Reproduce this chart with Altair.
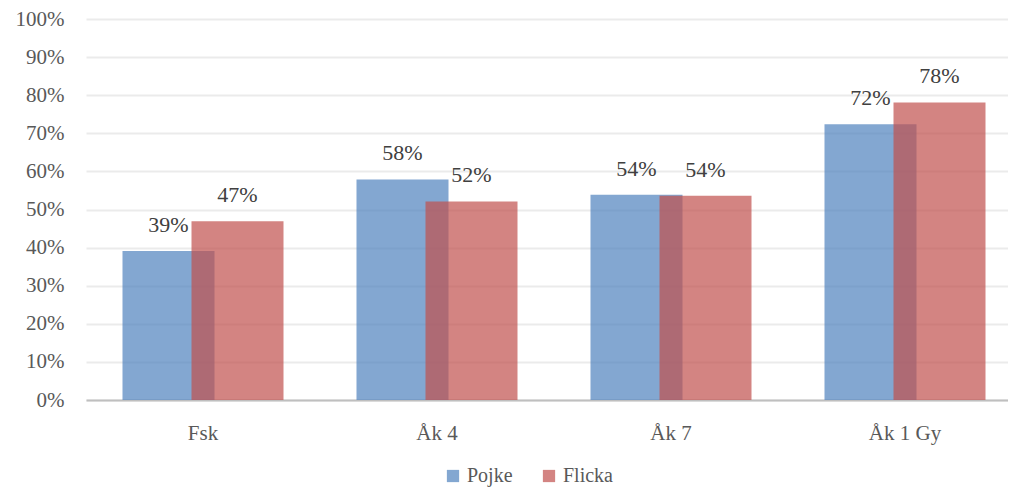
import altair as alt
import pandas as pd

categories = ["Fsk", "Åk 4", "Åk 7", "Åk 1 Gy"]
pojke = [0.391, 0.579, 0.539, 0.724]
flicka = [0.469, 0.521, 0.536, 0.781]
series = ["Pojke", "Flicka"]
colors = ["#4f81bd", "#c0504d"]
y_ticks = [0, 0.1, 0.2, 0.3, 0.4, 0.5, 0.6, 0.7, 0.8, 0.9, 1.0]

rows = []
for c, p, f in zip(categories, pojke, flicka):
    rows.append({"cat": c, "series": "Pojke", "value": p})
    rows.append({"cat": c, "series": "Flicka", "value": f})
df = pd.DataFrame(rows)

FONT = "Liberation Serif"
OFF = 34.5
BW = 92

x = alt.X("cat:N", sort=categories, title=None,
          scale=alt.Scale(paddingInner=0, paddingOuter=0, range=[0, 936]),
          axis=alt.Axis(labelAngle=0, ticks=False, domainColor="#bfbfbf", domainWidth=2,
                        labelFont=FONT, labelFontSize=21, labelColor="#595959", labelPadding=22))
y = alt.Y("value:Q", title=None,
          scale=alt.Scale(domain=[0, 1], nice=False),
          axis=alt.Axis(values=y_ticks, format=".0%", ticks=False, domain=False,
                        gridColor="#ebebeb", gridWidth=2,
                        labelFont=FONT, labelFontSize=21, labelColor="#595959", labelPadding=22))
color = alt.Color("series:N", scale=alt.Scale(domain=series, range=colors),
                  legend=alt.Legend(title=None, orient="none", direction="horizontal",
                                    legendX=357, legendY=447,
                                    symbolType="square",
                                    symbolSize=150, symbolOpacity=0.7, symbolStrokeWidth=0,
                                    labelFont=FONT, labelFontSize=20, labelColor="#595959",
                                    columnPadding=26))

base = alt.Chart(df)

blue = base.transform_filter(alt.datum.series == "Pojke").mark_bar(
    xOffset=-OFF, width=BW, opacity=0.7).encode(x=x, y=y, color=color)
red = base.transform_filter(alt.datum.series == "Flicka").mark_bar(
    xOffset=OFF, width=BW, opacity=0.7).encode(x=x, y=y, color=color)

blue_t = base.transform_filter(alt.datum.series == "Pojke").mark_text(
    dx=-OFF, dy=-19, baseline="alphabetic", font=FONT, fontSize=22, color="#404040").encode(
    x=x, y=y, text=alt.Text("value:Q", format=".0%"))
red_t = base.transform_filter(alt.datum.series == "Flicka").mark_text(
    dx=OFF, dy=-19, baseline="alphabetic", font=FONT, fontSize=22, color="#404040").encode(
    x=x, y=y, text=alt.Text("value:Q", format=".0%"))

chart = alt.layer(blue, red, blue_t, red_t).properties(
    width=922, height=381,
    autosize=alt.AutoSizeParams(type="none"),
    padding={"left": 78, "right": 0, "top": 11, "bottom": 89},
).configure_view(stroke=None).configure_axis(grid=True).configure_axisX(grid=False)

chart.save("out.html", embed_options={"renderer": "svg", "actions": False})
